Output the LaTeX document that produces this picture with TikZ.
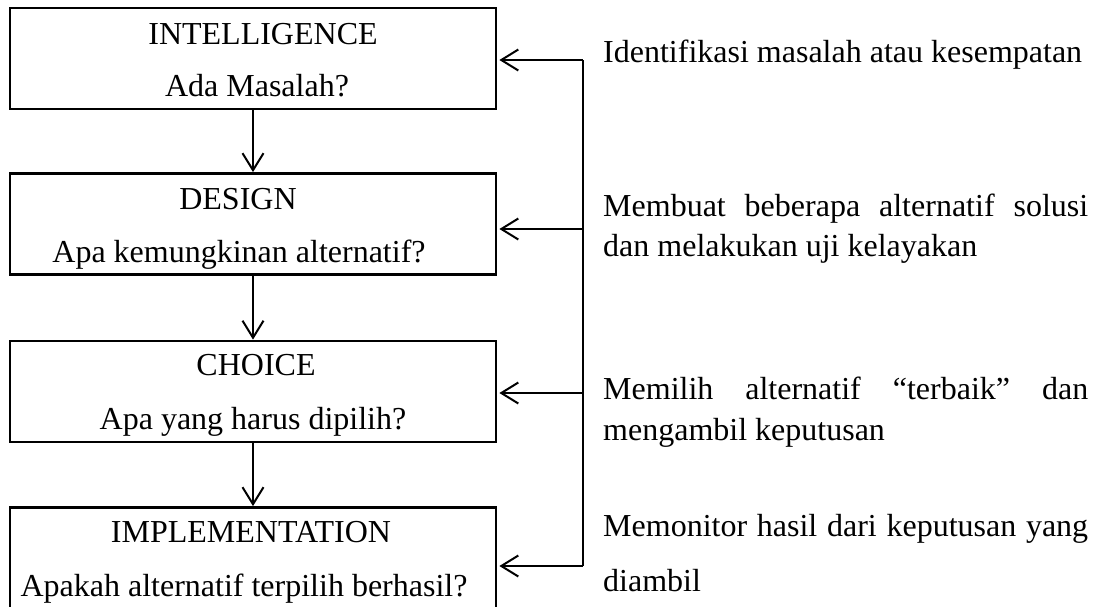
\documentclass[tikz,border=0pt]{standalone}
\usepackage{fontspec}
\setmainfont{Liberation Serif}
\usetikzlibrary{arrows.meta}
\begin{document}
\begin{tikzpicture}[x=1pt,y=-1pt,
  stagebox/.style={draw, line width=2.8pt, minimum width=486pt, minimum height=101pt, inner sep=0pt},
  txt/.style={inner sep=0pt, font=\fontsize{32}{38}\selectfont},
  arr/.style={line width=2pt, -{Straight Barb[length=17pt,width=21pt,line width=2pt]}},
  fb/.style={line width=2pt}]
\useasboundingbox (0,0) rectangle (1102,606);
\clip (0,0) rectangle (1102,606);
% stage boxes
\node[stagebox] (b1) at (253,58.5) {};
\node[stagebox] (b2) at (253,224) {};
\node[stagebox] (b3) at (253,391.5) {};
\node[stagebox] (b4) at (253,558) {};
% box texts
\node[txt, anchor=base] (t1a) at (263,44) {INTELLIGENCE};
\node[txt, anchor=base] (t1b) at (257,96) {Ada Masalah?};
\node[txt, anchor=base] (t2a) at (238,209) {DESIGN};
\node[txt, anchor=base] (t2b) at (239,262) {Apa kemungkinan alternatif?};
\node[txt, anchor=base] (t3a) at (256,375) {CHOICE};
\node[txt, anchor=base] (t3b) at (253,429) {Apa yang harus dipilih?};
\node[txt, anchor=base] (t4a) at (251,542) {IMPLEMENTATION};
\node[txt, anchor=base] (t4b) at (244,596) {Apakah alternatif terpilih berhasil?};
% downward arrows
\draw[arr] (b1) -- (b2);
\draw[arr] (b2) -- (b3);
\draw[arr] (b3) -- (b4);
% feedback line
\coordinate (f1) at (583,60);
\coordinate (f2) at (583,229);
\coordinate (f3) at (583,393);
\coordinate (f4) at (583,566);
\draw[fb] (f1) -- (f4);
\draw[arr] (f1) -- ([xshift=2pt]f1 -| b1.east);
\draw[arr] (f2) -- ([xshift=2pt]f2 -| b2.east);
\draw[arr] (f3) -- ([xshift=2pt]f3 -| b3.east);
\draw[arr] (f4) -- ([xshift=2pt]f4 -| b4.east);
% descriptions
\node[txt, anchor=base west] (d1) at (603,62) {Identifikasi masalah atau kesempatan};
\node[txt, anchor=base west] (d2a) at (603,216) {\makebox[485pt][s]{Membuat beberapa alternatif solusi}};
\node[txt, anchor=base west] (d2b) at (603,256) {dan melakukan uji kelayakan};
\node[txt, anchor=base west] (d3a) at (603,399) {\makebox[485pt][s]{Memilih alternatif “terbaik” dan}};
\node[txt, anchor=base west] (d3b) at (603,440) {mengambil keputusan};
\node[txt, anchor=base west] (d4a) at (603,536) {\makebox[485pt][s]{Memonitor hasil dari keputusan yang}};
\node[txt, anchor=base west] (d4b) at (603,591) {diambil};
\end{tikzpicture}
\end{document}
